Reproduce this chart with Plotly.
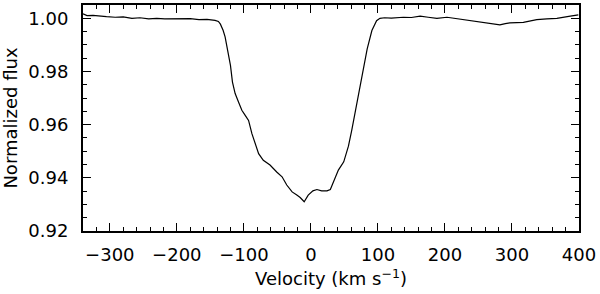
import plotly.graph_objects as go

velocity = [-340, -334, -325, -316, -305, -292, -280, -267, -255, -242, -230, -218,
            -205, -192, -180, -167, -155, -143, -138, -135, -131, -128, -125, -120,
            -117, -113, -108, -103, -98, -93, -88, -83, -78, -71, -61, -51, -43,
            -36, -28, -21, -16, -10, -4, 3, 9, 16, 24, 29, 35, 41, 49, 56, 61, 69,
            76, 84, 91, 98, 103, 110, 120, 138, 150, 163, 175, 188, 203, 220, 238,
            258, 277, 282, 290, 297, 317, 337, 352, 367, 387, 399]
flux = [1.0017, 1.0010, 1.0011, 1.0008, 1.0006, 1.0004, 1.0005, 1.0000, 1.0002,
        0.9998, 1.0000, 0.9998, 0.9999, 0.9998, 0.9999, 0.9995, 0.9996, 0.9992,
        0.9988, 0.9978, 0.9955, 0.9930, 0.9885, 0.9823, 0.9760, 0.9717, 0.9685,
        0.9654, 0.9635, 0.9616, 0.9566, 0.9529, 0.9491, 0.9466, 0.9448, 0.9422,
        0.9404, 0.9373, 0.9347, 0.9335, 0.9326, 0.9310, 0.9335, 0.9351, 0.9356,
        0.9351, 0.9351, 0.9356, 0.9391, 0.9429, 0.9460, 0.9519, 0.9579, 0.9685,
        0.9785, 0.9885, 0.9954, 0.9991, 1.0000, 1.0002, 1.0001, 1.0004, 1.0003,
        1.0008, 1.0004, 1.0000, 1.0004, 0.9998, 0.9991, 0.9986, 0.9979, 0.9975,
        0.9980, 0.9983, 0.9985, 0.9995, 0.9998, 1.0000, 1.0008, 1.0013]

x_ticks = [-300, -200, -100, 0, 100, 200, 300, 400]
x_labels = ["\u2212300", "\u2212200", "\u2212100", "0", "100", "200", "300", "400"]
y_ticks = [0.92, 0.94, 0.96, 0.98, 1.00]
y_labels = ["0.92", "0.94", "0.96", "0.98", "1.00"]

fig = go.Figure()
fig.add_trace(go.Scatter(x=velocity, y=flux, mode="lines",
                         line=dict(color="black", width=1.2), showlegend=False))

font = dict(family="DejaVu Sans", size=18, color="black")
fig.update_layout(
    width=600, height=294,
    margin=dict(l=83, r=21, t=5, b=63, autoexpand=False),
    paper_bgcolor="white", plot_bgcolor="white",
    font=font,
)
fig.update_xaxes(
    range=[-340, 400], tickvals=x_ticks, ticktext=x_labels,
    ticks="inside", ticklen=8, tickwidth=1.2, tickcolor="black",
    minor=dict(ticks="inside", dtick=20, tick0=0, ticklen=4, tickwidth=1.2, tickcolor="black"),
    showline=True, linewidth=2, linecolor="black", mirror="allticks",
    showgrid=False, zeroline=False, automargin=False,
    ticklabelstandoff=6,
    title=dict(text="Velocity (km s<sup>\u22121</sup>)", font=font, standoff=9),
)
fig.update_yaxes(
    range=[0.92, 1.005], tickvals=y_ticks, ticktext=y_labels,
    ticks="inside", ticklen=8, tickwidth=1.2, tickcolor="black",
    minor=dict(ticks="inside", dtick=0.005, tick0=0.92, ticklen=4, tickwidth=1.2, tickcolor="black"),
    showline=True, linewidth=2, linecolor="black", mirror="allticks",
    showgrid=False, zeroline=False, automargin=False,
    ticklabelstandoff=9,
    title=dict(text="Normalized flux", font=font, standoff=14),
)

fig.write_html("out.html", config={"displayModeBar": False},
               post_script="document.body.style.margin='0px';document.body.style.padding='0px';")
